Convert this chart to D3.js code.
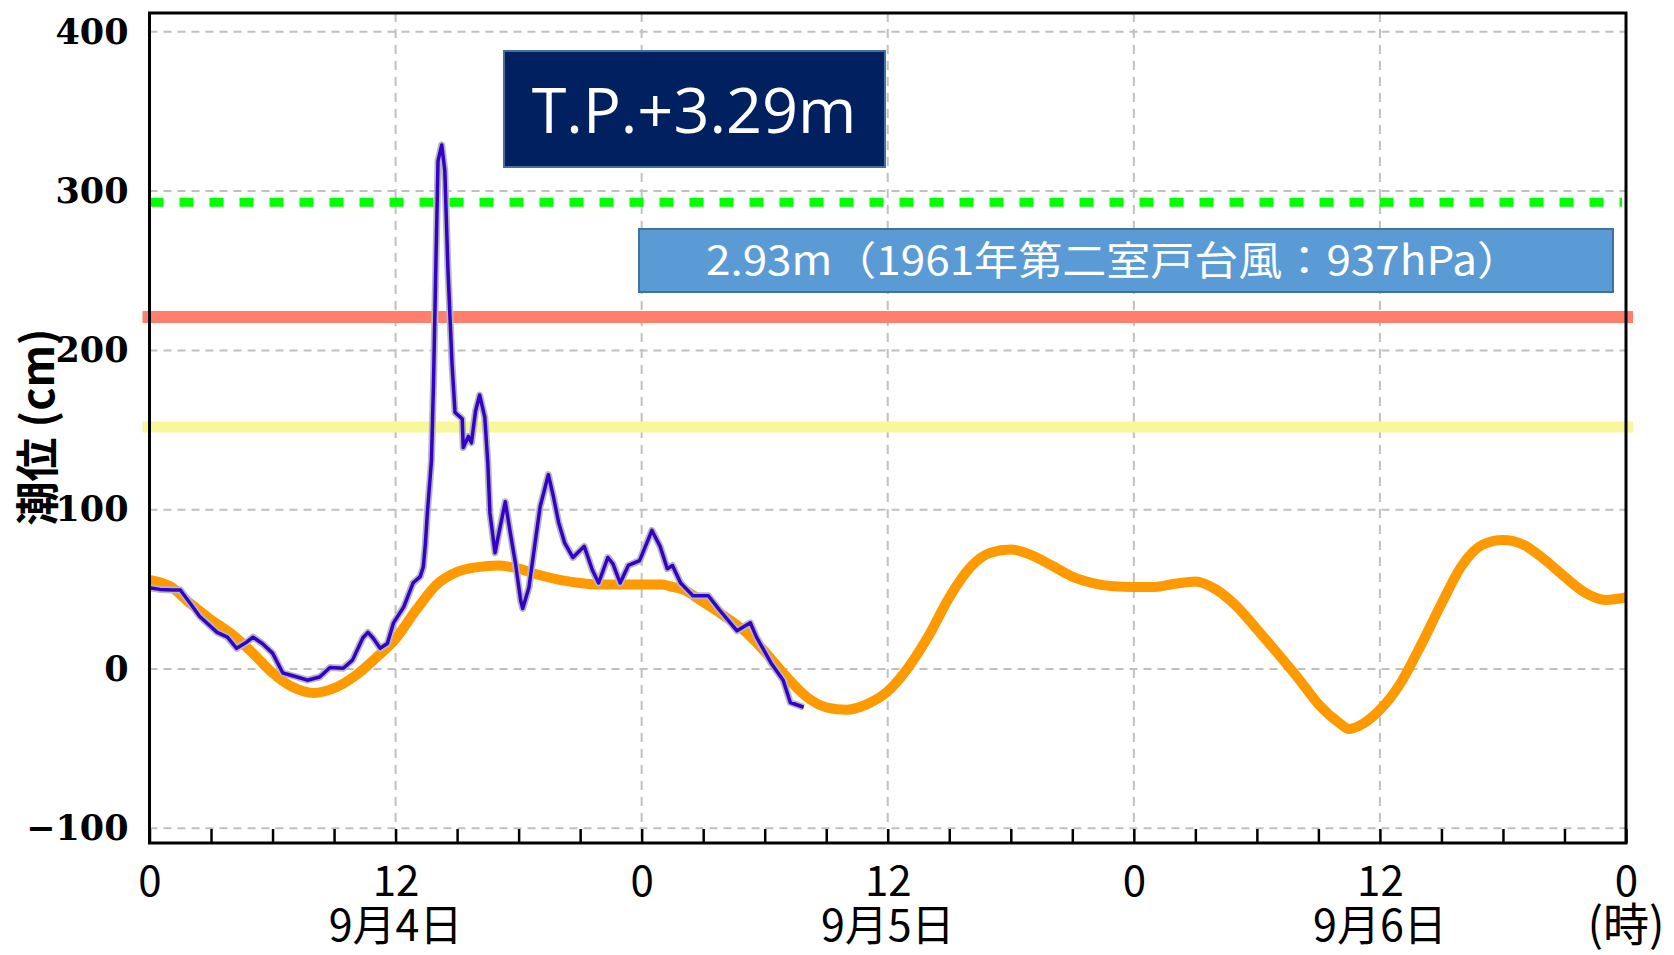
<!DOCTYPE html>
<html>
<head>
<meta charset="utf-8">
<script src="https://cdn.jsdelivr.net/npm/d3@7"></script>
<style>
  body { margin: 0; background: #fff; }
  svg { display: block; }
</style>
</head>
<body>
<div id="chart"></div>
<script>
// astronomical tide (orange), hours from 9/4 0:00
const tideHours = [0,1,2,3,4,5,6,7,8,9,10,11,12,13,14,15,16,17,18,19,20,21,22,23,24,25,25.5,26,27,28,29,30,31,32,33,34,35,36,37,38,39,40,41,42,43,44,45,46,47,48,49,50,51,52,53,54,55,56,57,58,58.5,59,60,61,62,63,64,65,66,67,68,69,70,71,72];
const tideValues = [56,52,41,31,22,10.5,-2.5,-11.5,-15,-12,-4.5,6.5,19,37,53,61,64,65,63,59,56,54,53,53,53,53,51.5,50,42,33.5,24,11,-4,-17,-24,-25.5,-22,-14,1,21,45,63.5,73,75,71.5,65,58,54,52,51.5,51.5,53.5,55,50,39.5,25,10,-5.5,-22,-33.6,-37.6,-35.6,-25.6,-9,15,41,65,78,81,78,69,58,48,43.4,45];

// observed tide level (blue)
const obsHours = [0,0.5,1.15,1.5,2.0,2.45,3.3,3.8,4.25,4.75,5.05,5.5,6.0,6.5,7.2,7.7,8.3,8.8,9.45,9.9,10.4,10.65,10.9,11.25,11.6,11.9,12.4,12.85,13.2,13.35,13.45,13.55,13.75,13.85,13.97,14.07,14.25,14.4,14.55,14.75,14.9,15.25,15.3,15.55,15.7,15.9,16.1,16.35,16.5,16.6,16.85,17.0,17.35,17.6,17.85,18.1,18.2,18.5,18.8,19.05,19.45,19.7,19.95,20.25,20.65,21.2,21.6,21.9,22.35,22.6,22.95,23.35,23.9,24.5,24.9,25.25,25.5,25.9,26.5,27.25,27.8,28.65,29.3,29.6,30.3,30.9,31.25,31.9];
const obsValues = [51,50,49.6,49.6,41,33,23,20,13,17,20,16,10,-2.5,-5,-7,-5,1,0.5,5.6,19.5,23,19.5,13,16,29,39,54,58,64,78,98,131,180,257,319,329,313,252,192,161,157,139,146,142,162,172,158,129,98,73,83,105,85,66,43,38,51,79,102,122,108,92,79,70,77,62,54,70,66,54,65,68,87,77,63,65,54,46,46,37,24,29,20,4,-7,-21,-24];

// reference levels (cm)
const levelValues = [152, 221, 293];
const levelColors = ["#f8f89a", "#ff7f6c", "#00ff00"];

const yTicks = [-100, 0, 100, 200, 300, 400];
const xTicks = d3.range(0, 73, 3);
const dateLabels = ["9月4日", "9月5日", "9月6日"];
const dateHours = [12, 36, 60];
const peakLabel = "T.P.+3.29m";
const recordLabel = "2.93m（1961年第二室戸台風：937hPa）";

const width = 1674, height = 955;
const mLeft = 149.5, mRight = 1626, mTop = 13, mBottom = 843;

const svg = d3.select("#chart").append("svg")
  .attr("width", width)
  .attr("height", height);

const x = d3.scaleLinear().domain([0, 72]).range([mLeft, mRight]);
const y = d3.scaleLinear().domain([-109.2, 411.8]).range([mBottom, mTop]);

// grid
svg.append("g").selectAll("line")
  .data(yTicks)
  .enter().append("line")
  .attr("x1", mLeft).attr("x2", mRight)
  .attr("y1", d => y(d)).attr("y2", d => y(d))
  .attr("stroke", "#c0c0c0").attr("stroke-width", 2)
  .attr("stroke-dasharray", "8,6");

svg.append("g").selectAll("line")
  .data([12, 24, 36, 48, 60])
  .enter().append("line")
  .attr("x1", d => x(d)).attr("x2", d => x(d))
  .attr("y1", mTop).attr("y2", mBottom)
  .attr("stroke", "#c0c0c0").attr("stroke-width", 2)
  .attr("stroke-dasharray", "9,7");

// reference lines
svg.append("line")
  .attr("x1", x(0) - 7).attr("x2", x(72) + 7)
  .attr("y1", y(levelValues[0])).attr("y2", y(levelValues[0]))
  .attr("stroke", levelColors[0]).attr("stroke-width", 11);
svg.append("line")
  .attr("x1", x(0) - 7).attr("x2", x(72) + 7)
  .attr("y1", y(levelValues[1])).attr("y2", y(levelValues[1]))
  .attr("stroke", levelColors[1]).attr("stroke-width", 12);
svg.append("line")
  .attr("x1", x(0)).attr("x2", x(72) - 4)
  .attr("y1", y(levelValues[2])).attr("y2", y(levelValues[2]))
  .attr("stroke", levelColors[2]).attr("stroke-width", 9)
  .attr("stroke-dasharray", "14,16");

// tide prediction
const tideData = tideHours.map((h, i) => [h, tideValues[i]]);
svg.append("path")
  .datum(tideData)
  .attr("fill", "none")
  .attr("stroke", "#ff9900")
  .attr("stroke-width", 10)
  .attr("d", d3.line().x(d => x(d[0])).y(d => y(d[1])).curve(d3.curveMonotoneX));

// observed
const obsData = obsHours.map((h, i) => [h, obsValues[i]]);
const obsLine = d3.line().x(d => x(d[0])).y(d => y(d[1]));
svg.append("path")
  .datum(obsData)
  .attr("fill", "none")
  .attr("stroke", "#b8b8b8")
  .attr("stroke-width", 7)
  .attr("stroke-linejoin", "round")
  .attr("d", obsLine);
svg.append("path")
  .datum(obsData)
  .attr("fill", "none")
  .attr("stroke", "#3300cc")
  .attr("stroke-width", 3.5)
  .attr("stroke-linejoin", "round")
  .attr("d", obsLine);

// frame
svg.append("rect")
  .attr("x", mLeft).attr("y", mTop)
  .attr("width", mRight - mLeft).attr("height", mBottom - mTop)
  .attr("fill", "none").attr("stroke", "#000").attr("stroke-width", 3);

// axes
const xAxis = d3.axisBottom(x)
  .tickValues(xTicks)
  .tickSizeInner(-14)
  .tickSizeOuter(0)
  .tickPadding(23)
  .tickFormat(d => d % 12 === 0 ? String(d % 24) : "");
const gx = svg.append("g").attr("transform", `translate(0,${mBottom})`).call(xAxis);
gx.select(".domain").remove();
gx.selectAll(".tick line").attr("stroke", "#000").attr("stroke-width", 2.5);
gx.selectAll(".tick text")
  .style("font-family", "'Noto Sans CJK JP'")
  .style("font-size", "42px")
  .attr("fill", "#000");

const yAxis = d3.axisLeft(y)
  .tickValues(yTicks)
  .tickSize(0)
  .tickPadding(21);
const gy = svg.append("g").attr("transform", `translate(${mLeft},0)`).call(yAxis);
gy.select(".domain").remove();
gy.selectAll(".tick text")
  .style("font-family", "'DejaVu Serif'")
  .style("font-weight", "bold")
  .style("font-size", "35px")
  .attr("fill", "#000");

// date labels
svg.append("g").selectAll("text")
  .data(dateLabels)
  .enter().append("text")
  .attr("x", (d, i) => x(dateHours[i]))
  .attr("y", 941)
  .attr("text-anchor", "middle")
  .style("font-family", "'Noto Sans CJK JP'")
  .style("font-size", "43px")
  .text(d => d);

svg.append("text")
  .attr("x", x(72))
  .attr("y", 941)
  .attr("text-anchor", "middle")
  .style("font-family", "'Noto Sans CJK JP'")
  .style("font-size", "46px")
  .text("(時)");

// y label
svg.append("text")
  .attr("transform", "translate(54,427) rotate(-90)")
  .attr("text-anchor", "middle")
  .style("font-family", "'Noto Sans CJK JP'")
  .style("font-weight", "bold")
  .style("font-size", "44px")
  .text("潮位 (cm)");

// peak box
svg.append("rect")
  .attr("x", 504).attr("y", 51).attr("width", 381).attr("height", 116)
  .attr("fill", "#002060").attr("stroke", "#41719c").attr("stroke-width", 2);
svg.append("text")
  .attr("x", 694).attr("y", 133)
  .attr("text-anchor", "middle")
  .attr("fill", "#fff")
  .style("font-family", "'Open Sans'")
  .style("font-size", "63px")
  .text(peakLabel);

// record box
svg.append("rect")
  .attr("x", 639).attr("y", 229).attr("width", 974).attr("height", 63)
  .attr("fill", "#5b9bd5").attr("stroke", "#41719c").attr("stroke-width", 2);
svg.append("text")
  .attr("x", 706).attr("y", 275)
  .attr("fill", "#fff")
  .attr("textLength", 815)
  .attr("lengthAdjust", "spacingAndGlyphs")
  .style("font-family", "'Noto Sans CJK JP'")
  .style("font-size", "40px")
  .text(recordLabel);
</script>
</body>
</html>
